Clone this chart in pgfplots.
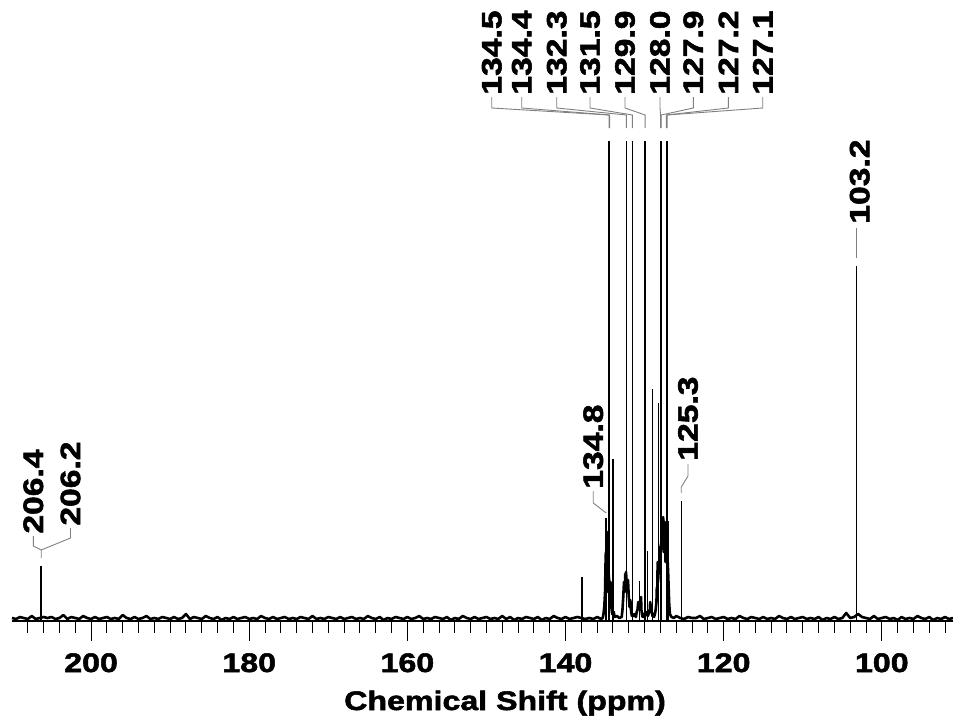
\documentclass[border=0pt]{standalone}
\usepackage{pgfplots}
\pgfplotsset{compat=1.18}
\usepackage{fontspec}
\setmainfont{Liberation Sans}[FakeStretch=1.2, BoldFeatures={FakeBold=2}]
\newcommand\lbl{\fontsize{14}{14}\selectfont\bfseries}
\newcommand\tlbl{\fontsize{13.4}{14}\selectfont\bfseries}
\begin{document}
\begin{tikzpicture}
\useasboundingbox (-6pt,-49pt) rectangle (470.5pt,310.5pt);
\begin{axis}[
  at={(0,0)}, anchor=south west,
  scale only axis, width=470.5pt, height=310.5pt,
  x dir=reverse, xmin=91, xmax=210, ymin=1, ymax=622,
  axis x line*=bottom, axis y line=none,
  x axis line style={-, line width=0.9pt},
  xtick={100,120,...,200},
  minor xtick={92,94,...,208},
  tick align=outside,
  major tick length=10pt, minor tick length=6pt,
  every tick/.style={black, line width=0.5pt},
  /pgf/number format/assume math mode=true,
  xticklabel style={font=\tlbl, anchor=base, inner sep=0pt, yshift=-15.5pt},
  clip=false,
]
\addplot[black, line width=1.3pt, line join=round] coordinates {
(91.0,4)(91.5,3)(92.0,5)(92.5,3)(93.0,4)(93.5,2)(94.0,5)(94.5,3)(95.0,4)(95.5,6)
(96.0,3)(96.5,4)(97.0,3)(97.5,5)(98.0,2)(98.5,4)(99.0,3)(99.5,5)(100.0,4)(100.5,3)
(101.0,6)(101.5,3)(102.0,4)(102.5,5)(103.0,8)(103.5,5)(104.0,4)(104.5,9)(105.0,4)(105.5,3)
(106.0,5)(106.5,3)(107.0,4)(107.5,2)(108.0,5)(108.5,3)(109.0,4)(109.5,3)(110.0,5)(110.5,4)
(111.0,3)(111.5,5)(112.0,3)(112.5,4)(113.0,6)(113.5,3)(114.0,4)(114.5,3)(115.0,5)(115.5,3)
(116.0,4)(116.5,5)(117.0,3)(117.5,4)(118.0,6)(118.5,3)(119.0,4)(119.5,3)(120.0,5)(120.5,4)
(121.0,3)(121.5,5)(122.0,4)(122.5,3)(123.0,6)(123.5,4)
(124.0,4)(124.5,5)(125.0,3)(125.5,4)(126.0,6)(126.3,4)(126.6,5)(126.8,8)(126.9,20)(127.0,45)
(127.08,60)(127.3,90)(127.35,60)(127.4,80)(127.45,100)(127.5,75)(127.55,95)(127.6,70)(127.65,105)
(127.7,80)(127.75,98)(127.8,85)(128.05,70)(128.1,75)(128.15,50)(128.2,55)(128.3,40)(128.35,60)
(128.4,25)(128.45,35)(128.5,20)(128.6,12)(128.7,8)(128.8,5)(128.9,8)(129.0,6)(129.1,10)
(129.2,15)(129.3,20)(129.35,10)(129.4,12)(129.5,8)(129.6,6)(129.8,10)(130.0,6)(130.1,8)
(130.2,5)(130.3,6)(130.4,12)(130.45,25)(130.55,18)(130.7,15)(130.8,20)(130.9,12)(131.0,10)
(131.1,5)(131.3,8)(131.45,6)(131.6,6)(131.7,10)(131.8,22)(131.9,15)(132.0,25)(132.1,42)
(132.2,30)(132.35,50)(132.4,35)(132.45,48)(132.5,30)(132.6,40)(132.7,25)(132.8,12)(132.9,5)
(133.2,4)(133.5,6)(133.8,5)(133.9,10)(134.1,8)(134.2,15)(134.3,40)(134.35,25)(134.6,55)
(134.65,30)(134.7,50)(134.75,90)(134.8,65)(134.9,70)(134.95,55)(135.0,30)(135.1,15)(135.2,8)
(135.3,4)(135.5,3)(136.0,5)(136.5,3)(137.0,4)(137.5,3)(138.0,4)(138.5,5)
(139.0,4)(139.5,3)(140.0,5)(140.5,3)(141.0,4)(141.5,6)(142.0,3)(142.5,4)(143.0,2)(143.5,5)
(144.0,3)(144.5,4)(145.0,5)(145.5,3)(146.0,4)(146.5,2)(147.0,5)(147.5,3)(148.0,6)(148.5,3)
(149.0,4)(149.5,3)(150.0,5)(150.5,4)(151.0,3)(151.5,5)(152.0,3)(152.5,4)(153.0,6)(153.5,3)
(154.0,4)(154.5,2)(155.0,5)(155.5,3)(156.0,4)(156.5,5)(157.0,3)(157.5,4)(158.0,3)(158.5,6)
(159.0,4)(159.5,3)(160.0,5)(160.5,3)(161.0,4)(161.5,5)(162.0,3)(162.5,4)(163.0,2)(163.5,5)
(164.0,3)(164.5,4)(165.0,6)(165.5,3)(166.0,4)(166.5,3)(167.0,5)(167.5,4)(168.0,3)(168.5,5)
(169.0,3)(169.5,4)(170.0,5)(170.5,3)(171.0,4)(171.5,3)(172.0,6)(172.5,3)(173.0,4)(173.5,5)
(174.0,3)(174.5,4)(175.0,3)(175.5,5)(176.0,4)(176.5,3)(177.0,5)(177.5,3)(178.0,4)(178.5,6)
(179.0,3)(179.5,4)(180.0,3)(180.5,5)(181.0,4)(181.5,3)(182.0,5)(182.5,3)(183.0,4)(183.5,2)
(184.0,5)(184.5,3)(185.0,4)(185.5,6)(186.0,3)(186.5,4)(187.0,5)(187.5,3)(188.0,8)(188.5,4)
(189.0,3)(189.5,5)(190.0,3)(190.5,4)(191.0,5)(191.5,3)(192.0,4)(192.5,3)(193.0,6)(193.5,4)
(194.0,3)(194.5,5)(195.0,3)(195.5,4)(196.0,7)(196.5,3)(197.0,4)(197.5,3)(198.0,5)(198.5,4)
(199.0,3)(199.5,5)(200.0,3)(200.5,4)(201.0,6)(201.5,3)(202.0,4)(202.5,5)(203.0,3)(203.5,7)
(204.0,4)(204.5,3)(205.0,5)(205.5,4)(206.0,5)(206.5,4)(207.0,3)(207.5,6)(208.0,3)(208.5,4)
(209.0,5)(209.5,3)(210.0,4)
};
\addplot[ycomb, black, line width=0.75pt] coordinates {
(134.50,481)(134.42,481)(132.30,481)(131.55,481)(129.93,481)
(127.98,481)(127.90,481)(127.25,481)(127.15,481)
(129.02,233)(128.22,219)(133.99,163)(125.36,121)(103.18,356)
(206.36,56)(206.24,54)(137.90,45)(130.62,41)(129.66,71)(127.05,101)(134.85,104)
};
% peak labels and connectors
\draw[gray, line width=0.45pt] (axis cs:149.33,525) -- (axis cs:149.33,514) -- (axis cs:134.50,507) -- (axis cs:134.50,494);
\draw[gray, line width=0.45pt] (axis cs:145.54,525) -- (axis cs:145.54,514) -- (axis cs:134.42,507) -- (axis cs:134.42,494);
\draw[gray, line width=0.45pt] (axis cs:141.11,525) -- (axis cs:141.11,514) -- (axis cs:132.30,507) -- (axis cs:132.30,494);
\draw[gray, line width=0.45pt] (axis cs:136.90,525) -- (axis cs:136.90,514) -- (axis cs:131.55,507) -- (axis cs:131.55,494);
\draw[gray, line width=0.45pt] (axis cs:132.48,525) -- (axis cs:132.48,514) -- (axis cs:129.93,507) -- (axis cs:129.93,494);
\draw[gray, line width=0.45pt] (axis cs:128.05,525) -- (axis cs:128.05,514) -- (axis cs:127.98,507) -- (axis cs:127.98,494);
\draw[gray, line width=0.45pt] (axis cs:123.84,525) -- (axis cs:123.84,514) -- (axis cs:127.90,507) -- (axis cs:127.90,494);
\draw[gray, line width=0.45pt] (axis cs:119.41,525) -- (axis cs:119.41,514) -- (axis cs:127.25,507) -- (axis cs:127.25,494);
\draw[gray, line width=0.45pt] (axis cs:115.06,525) -- (axis cs:115.06,514) -- (axis cs:127.15,507) -- (axis cs:127.15,494);
\node[rotate=90, anchor=west, inner sep=0pt, font=\lbl] at (axis cs:149.33,527) {134.5};
\node[rotate=90, anchor=west, inner sep=0pt, font=\lbl] at (axis cs:145.54,527) {134.4};
\node[rotate=90, anchor=west, inner sep=0pt, font=\lbl] at (axis cs:141.11,527) {132.3};
\node[rotate=90, anchor=west, inner sep=0pt, font=\lbl] at (axis cs:136.90,527) {131.5};
\node[rotate=90, anchor=west, inner sep=0pt, font=\lbl] at (axis cs:132.48,527) {129.9};
\node[rotate=90, anchor=west, inner sep=0pt, font=\lbl] at (axis cs:128.05,527) {128.0};
\node[rotate=90, anchor=west, inner sep=0pt, font=\lbl] at (axis cs:123.84,527) {127.9};
\node[rotate=90, anchor=west, inner sep=0pt, font=\lbl] at (axis cs:119.41,527) {127.2};
\node[rotate=90, anchor=west, inner sep=0pt, font=\lbl] at (axis cs:115.06,527) {127.1};
\draw[gray, line width=0.45pt] (axis cs:136.49,131) -- (axis cs:136.49,119) -- (axis cs:134.85,109);
\node[rotate=90, anchor=west, inner sep=0pt, font=\lbl] at (axis cs:136.49,133) {134.8};
\draw[gray, line width=0.45pt] (axis cs:124.51,158) -- (axis cs:124.51,146) -- (axis cs:125.36,135) -- (axis cs:125.36,129);
\node[rotate=90, anchor=west, inner sep=0pt, font=\lbl] at (axis cs:124.51,161) {125.3};
\draw[gray, line width=0.45pt] (axis cs:103.18,394) -- (axis cs:103.18,364);
\node[rotate=90, anchor=west, inner sep=0pt, font=\lbl] at (axis cs:102.80,398) {103.2};
\draw[gray, line width=0.45pt] (axis cs:207.30,86) -- (axis cs:207.30,76) -- (axis cs:206.30,72) -- (axis cs:206.30,64);
\draw[gray, line width=0.45pt] (axis cs:202.60,94) -- (axis cs:202.60,84) -- (axis cs:206.30,72);
\node[rotate=90, anchor=west, inner sep=0pt, font=\lbl] at (axis cs:207.30,88) {206.4};
\node[rotate=90, anchor=west, inner sep=0pt, font=\lbl] at (axis cs:202.60,96) {206.2};
\node[anchor=base, inner sep=0pt, font=\tlbl, yshift=-44.5pt] at (axis cs:147.65,1) {Chemical Shift (ppm)};
\end{axis}
\end{tikzpicture}
\end{document}
